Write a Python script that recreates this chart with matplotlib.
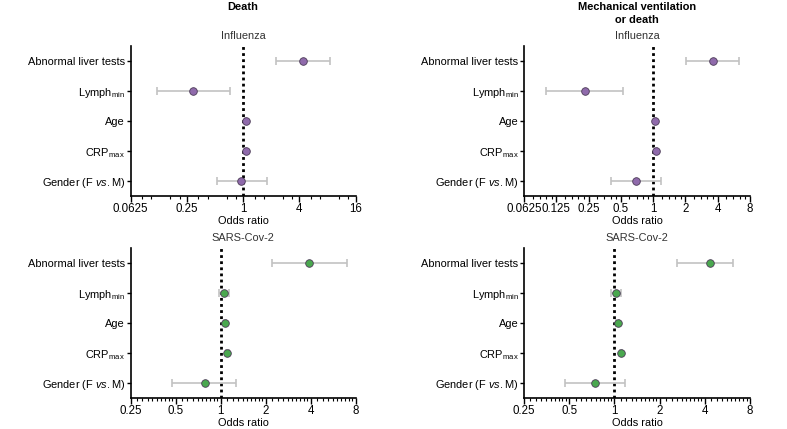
import numpy as np
import matplotlib
matplotlib.use("Agg")
import matplotlib.pyplot as plt
from matplotlib.ticker import FixedLocator, FixedFormatter, NullFormatter

plt.rcParams['font.family'] = ['Liberation Sans', 'DejaVu Sans']
plt.rcParams['mathtext.fontset'] = 'custom'
plt.rcParams['mathtext.rm'] = 'Liberation Sans'
plt.rcParams['mathtext.it'] = 'Liberation Sans:italic'

labels = ['Abnormal liver tests', r'Lymph$_{\mathregular{min}}$', 'Age',
          r'CRP$_{\mathregular{max}}$', r'Gender (F $\mathit{vs.}$M)']

# Death, influenza
death_flu_or = [4.37, 0.29, 1.06, 1.06, 0.95]
death_flu_lo = [2.23, 0.12, 1.04, 1.04, 0.52]
death_flu_hi = [8.57, 0.72, 1.08, 1.08, 1.78]

# Mechanical ventilation or death, influenza
mv_flu_or = [3.64, 0.23, 1.04, 1.06, 0.69]
mv_flu_lo = [2.02, 0.10, 1.02, 1.04, 0.40]
mv_flu_hi = [6.36, 0.52, 1.06, 1.08, 1.18]

# Death, SARS-Cov-2
death_cov_or = [3.91, 1.06, 1.07, 1.11, 0.78]
death_cov_lo = [2.22, 0.97, 1.05, 1.09, 0.47]
death_cov_hi = [6.96, 1.14, 1.09, 1.13, 1.27]

# Mechanical ventilation or death, SARS-Cov-2
mv_cov_or = [4.32, 1.03, 1.05, 1.11, 0.74]
mv_cov_lo = [2.59, 0.95, 1.03, 1.09, 0.47]
mv_cov_hi = [6.19, 1.11, 1.07, 1.13, 1.17]

ticks_tl = [0.0625, 0.25, 1, 4, 16]
ticks_tr = [0.0625, 0.125, 0.25, 0.5, 1, 2, 4, 8]
ticks_b = [0.25, 0.5, 1, 2, 4, 8]

PURPLE = '#8f6aab'
GREEN = '#4aa84f'
FS = 7.9


def fmt(v):
    return '%g' % v


def forest(ax, odds, lo, hi, color, ticks, subs, title):
    y = np.arange(len(odds))
    odds = np.array(odds)
    err = [odds - np.array(lo), np.array(hi) - odds]
    ax.axvline(1, color='black', linestyle=(0, (1, 1.2)), linewidth=2, zorder=1)
    ax.errorbar(odds, y, xerr=err, fmt='none', ecolor='#c2c2c2',
                elinewidth=1.2, capsize=3, capthick=1.2, zorder=2)
    ax.scatter(odds, y, s=30, color=color, edgecolor='#4a3a55', linewidth=0.6, zorder=3)
    ax.set_xscale('log', base=2)
    ax.set_xlim(ticks[0], ticks[-1])
    ax.set_ylim(len(odds) - 0.5, -0.5)
    ax.xaxis.set_major_locator(FixedLocator(ticks))
    ax.xaxis.set_major_formatter(FixedFormatter([fmt(t) for t in ticks]))
    minors = []
    k = ticks[0]
    while k < ticks[-1]:
        minors += [k * s for s in subs]
        k *= 2
    ax.xaxis.set_minor_locator(FixedLocator(minors))
    ax.xaxis.set_minor_formatter(NullFormatter())
    ax.set_yticks(y)
    ax.set_yticklabels(labels, fontsize=FS)
    ax.tick_params(axis='x', which='major', length=4, width=1, labelsize=8.3, pad=1)
    ax.tick_params(axis='x', which='minor', length=2, width=0.8)
    ax.tick_params(axis='y', length=3, width=1, pad=1)
    ax.spines['top'].set_visible(False)
    ax.spines['right'].set_visible(False)
    ax.spines['left'].set_linewidth(1.2)
    ax.spines['bottom'].set_linewidth(1.2)
    ax.set_xlabel('Odds ratio', fontsize=FS, labelpad=1)
    ax.set_title(title, fontsize=FS, color='#333333', pad=5)


fig = plt.figure(figsize=(7.87, 4.29), dpi=100)
ax_tl = fig.add_axes([0.166, 0.543, 0.286, 0.350])
ax_tr = fig.add_axes([0.666, 0.543, 0.287, 0.350])
ax_bl = fig.add_axes([0.166, 0.073, 0.286, 0.348])
ax_br = fig.add_axes([0.666, 0.073, 0.287, 0.348])

forest(ax_tl, death_flu_or, death_flu_lo, death_flu_hi, PURPLE, ticks_tl,
       [1.33, 1.67], 'Influenza')
forest(ax_tr, mv_flu_or, mv_flu_lo, mv_flu_hi, PURPLE, ticks_tr,
       [1.2, 1.4, 1.6, 1.8], 'Influenza')
forest(ax_bl, death_cov_or, death_cov_lo, death_cov_hi, GREEN, ticks_b,
       list(np.arange(1.1, 1.95, 0.1)), 'SARS-Cov-2')
forest(ax_br, mv_cov_or, mv_cov_lo, mv_cov_hi, GREEN, ticks_b,
       list(np.arange(1.1, 1.95, 0.1)), 'SARS-Cov-2')

fig.text(243 / 787, 1 - 7 / 429, 'Death', ha='center', va='center',
         fontsize=FS, fontweight='bold')
fig.text(637 / 787, 1 - 13.5 / 429, 'Mechanical ventilation\nor death', ha='center',
         va='center', fontsize=FS, fontweight='bold', linespacing=1.35)

fig.savefig('out.png', dpi=100)
